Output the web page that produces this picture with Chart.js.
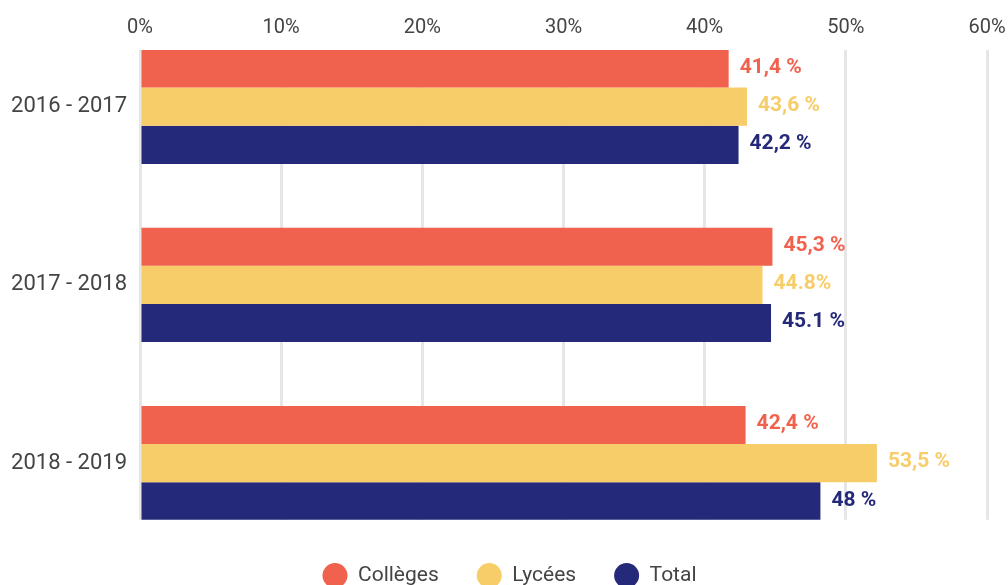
<!DOCTYPE html>
<html>
<head>
<meta charset="utf-8">
<script src="https://cdn.jsdelivr.net/npm/chart.js@4/dist/chart.umd.min.js"></script>
<style>
    html, body { margin: 0; padding: 0; overflow: hidden; background: #fff; }
    #box { width: 1008px; height: 600px; position: relative; }
</style>
</head>
<body>
<div id="box"><canvas id="grafico"></canvas></div>
<script>
var anni = ["2016 - 2017", "2017 - 2018", "2018 - 2019"];
var serie = ["Collèges", "Lycées", "Total"];
var colori = ["#F1624E", "#F7CD6A", "#25297A"];

// lunghezze delle barre
var colleges = [41.7, 44.8, 42.9];
var lycees = [43.0, 44.1, 52.2];
var totale = [42.4, 44.7, 48.2];

// etichette scritte accanto alle barre
var etichetteColleges = ["41,4 %", "45,3 %", "42,4 %"];
var etichetteLycees = ["43,6 %", "44.8%", "53,5 %"];
var etichetteTotale = ["42,2 %", "45.1 %", "48 %"];

var tickX = [0, 10, 20, 30, 40, 50, 60];

var valori = [colleges, lycees, totale];
var etichette = [etichetteColleges, etichetteLycees, etichetteTotale];

Chart.defaults.font.family = "Roboto";
Chart.defaults.color = "#444444";

const pluginEtichette = {
    id: "etichette",
    afterDatasetsDraw(chart){
        const ctx = chart.ctx;
        ctx.save();
        ctx.font = "bold 21px Roboto";
        ctx.textAlign = "left";
        ctx.textBaseline = "middle";
        chart.data.datasets.forEach((ds, d) => {
            const meta = chart.getDatasetMeta(d);
            meta.data.forEach((bar, i) => {
                ctx.fillStyle = colori[d];
                ctx.fillText(etichette[d][i], bar.x + 11, bar.y - 1);
            });
        });
        ctx.restore();
    }
};

var datasets = [];
for (var d = 0; d < serie.length; d++){
    datasets.push({
        label: serie[d],
        data: valori[d].map((v, i) => ({x: v, y: i})),
        backgroundColor: colori[d],
        borderWidth: 0,
        categoryPercentage: 0.642,
        barPercentage: 1
    });
}

const context = document.getElementById("grafico").getContext("2d");
var chart = new Chart(context, {
    type: "bar",
    data: { datasets: datasets },
    plugins: [pluginEtichette],
    options: {
        indexAxis: "y",
        responsive: true,
        maintainAspectRatio: false,
        animation: false,
        layout: { padding: { top: 6, left: 11, right: 0, bottom: 4 } },
        scales: {
            x: {
                type: "linear",
                position: "top",
                min: 0,
                max: 60,
                afterBuildTicks: axis => { axis.ticks = tickX.map(v => ({value: v})); },
                afterFit: axis => { axis.paddingRight = 21; },
                ticks: {
                    padding: 10,
                    font: { size: 20 },
                    color: "#444444",
                    callback: v => v + "%"
                },
                grid: { color: "#e6e6e6", lineWidth: 3, drawTicks: false },
                border: { display: false }
            },
            y: {
                type: "linear",
                reverse: true,
                offset: false,
                min: -0.318,
                max: 2.318,
                afterBuildTicks: axis => { axis.ticks = anni.map((a, i) => ({value: i})); },
                afterFit: axis => { axis.width = 129; },
                ticks: {
                    padding: 13,
                    font: { size: 22 },
                    color: "#444444",
                    callback: v => anni[v]
                },
                grid: { display: false, drawTicks: false },
                border: { display: false }
            }
        },
        plugins: {
            legend: {
                position: "bottom",
                title: { display: true, text: " ", font: { size: 6 }, padding: 0 },
                labels: {
                    usePointStyle: true,
                    pointStyle: "circle",
                    boxHeight: 17.7,
                    pointStyleWidth: 25,
                    padding: 38,
                    font: { size: 21 },
                    color: "#444444"
                }
            },
            tooltip: { enabled: false }
        }
    }
});
</script>
</body>
</html>
